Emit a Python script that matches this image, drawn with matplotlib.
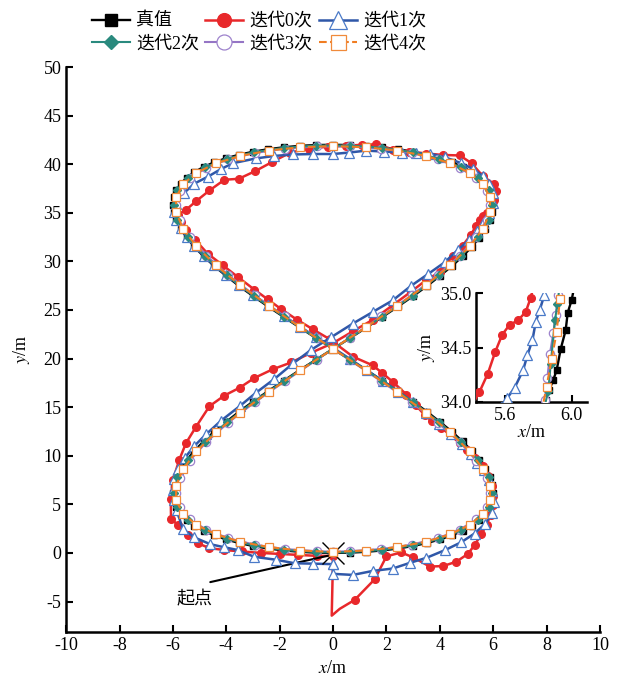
import matplotlib
matplotlib.use('Agg')
import matplotlib.pyplot as plt

plt.rcParams['font.family'] = ['Liberation Serif', 'Noto Sans CJK SC']
plt.rcParams['mathtext.fontset'] = 'stix'
plt.rcParams['axes.unicode_minus'] = False

labels = ['真值', '迭代0次', '迭代1次', '迭代2次', '迭代3次', '迭代4次']

# reference trajectory (figure eight)
truth_x = [0.00, 0.63, 1.25, 1.85, 2.44, 3.00, 3.53, 4.01, 4.46, 4.85, 5.20, 5.48, 5.71, 5.87, 5.97, 6.00,
           5.97, 5.87, 5.71, 5.48, 5.20, 4.85, 4.46, 4.01, 3.53, 3.00, 2.44, 1.85, 1.25, 0.63, 0.00,
           -0.63, -1.25, -1.85, -2.44, -3.00, -3.53, -4.01, -4.46, -4.85, -5.20, -5.48, -5.71, -5.87, -5.97, -6.00,
           -5.97, -5.87, -5.71, -5.48, -5.20, -4.85, -4.46, -4.01, -3.53, -3.00, -2.44, -1.85, -1.25, -0.63, 0.00,
           0.63, 1.25, 1.85, 2.44, 3.00, 3.53, 4.01, 4.46, 4.85, 5.20, 5.48, 5.71, 5.87, 5.97, 6.00,
           5.97, 5.87, 5.71, 5.48, 5.20, 4.85, 4.46, 4.01, 3.53, 3.00, 2.44, 1.85, 1.25, 0.63, 0.00,
           -0.63, -1.25, -1.85, -2.44, -3.00, -3.53, -4.01, -4.46, -4.85, -5.20, -5.48, -5.71, -5.87, -5.97, -6.00,
           -5.97, -5.87, -5.71, -5.48, -5.20, -4.85, -4.46, -4.01, -3.53, -3.00, -2.44, -1.85, -1.25, -0.63, 0.00]
truth_y = [0.00, 0.03, 0.12, 0.26, 0.46, 0.72, 1.03, 1.40, 1.82, 2.29, 2.81, 3.39, 4.01, 4.68, 5.39, 6.15,
           6.95, 7.78, 8.66, 9.56, 10.50, 11.47, 12.46, 13.47, 14.51, 15.57, 16.63, 17.72, 18.81, 19.90, 21.00,
           22.10, 23.20, 24.29, 25.37, 26.44, 27.49, 28.53, 29.54, 30.53, 31.50, 32.44, 33.34, 34.22, 35.05, 35.85,
           36.61, 37.32, 37.99, 38.61, 39.19, 39.71, 40.19, 40.61, 40.97, 41.28, 41.54, 41.74, 41.89, 41.97, 42.00,
           41.97, 41.89, 41.74, 41.54, 41.28, 40.97, 40.61, 40.19, 39.71, 39.19, 38.61, 37.99, 37.32, 36.61, 35.85,
           35.05, 34.22, 33.34, 32.44, 31.50, 30.53, 29.54, 28.53, 27.49, 26.44, 25.37, 24.29, 23.20, 22.10, 21.00,
           19.90, 18.81, 17.72, 16.63, 15.57, 14.51, 13.47, 12.46, 11.47, 10.50, 9.56, 8.66, 7.78, 6.95, 6.15,
           5.39, 4.68, 4.01, 3.39, 2.81, 2.29, 1.82, 1.40, 1.03, 0.72, 0.46, 0.26, 0.12, 0.03, 0.00]

# iteration 0
it0_x = [0.00, -0.05, 0.25, 0.81, 1.56, 2.00, 2.55, 3.00, 3.62, 4.12, 4.62, 5.05, 5.30, 5.55, 5.75, 5.90,
         5.98, 6.00, 5.95, 5.82, 5.60, 5.30, 5.02, 4.75, 4.40, 4.05, 3.70, 3.43, 3.10, 2.75, 2.24, 1.85,
         1.49, 0.74, -0.13, -0.75, -1.35, -1.95, -2.45, -2.95, -3.57, -4.13, -4.70, -5.16, -5.51, -5.70,
         -5.82, -5.51, -5.13, -4.63, -4.07, -3.53, -2.91, -2.30, -1.60, -0.90, -0.20, 0.50, 1.10, 1.62,
         2.24, 2.85, 3.50, 4.12, 4.75, 5.19, 5.62, 6.02, 6.10, 6.02, 5.76, 5.62, 5.50, 5.35, 5.15, 4.85,
         4.50, 4.00, 3.50, 2.93, 2.24, 1.49, 0.74, 0.00, -0.82, -1.57, -2.26, -2.95, -3.50, -4.07, -4.63,
         -5.13, -5.51, -5.76, -6.00, -6.08, -6.07, -5.82, -5.45, -5.07, -4.63, -4.07, -3.40, -2.70, -2.00,
         -1.30, -0.60, 0.00]
it0_y = [-0.30, -6.45, -5.75, -4.83, -2.71, -0.35, 0.05, -0.45, -1.40, -1.35, -0.90, -0.10, 0.80, 1.90, 2.90, 3.90,
         4.90, 5.90, 6.90, 7.90, 8.90, 9.80, 10.60, 11.30, 12.10, 12.90, 13.60, 14.20, 15.20, 16.30, 17.60, 18.50,
         19.30, 20.20, 22.00, 23.00, 24.00, 25.10, 26.10, 27.10, 28.40, 29.60, 30.80, 32.20, 33.20, 34.10,
         34.80, 35.30, 36.20, 37.30, 38.40, 38.50, 39.30, 40.20, 41.20, 41.60, 41.80, 41.90, 42.00, 42.05,
         41.50, 41.30, 41.10, 40.95, 40.90, 40.10, 38.75, 38.00, 37.20, 36.30, 35.00, 34.70, 34.25, 33.60, 32.70, 31.60,
         30.60, 28.90, 28.10, 26.90, 25.50, 24.00, 22.80, 21.60, 20.60, 19.60, 18.90, 18.00, 17.00, 16.20, 15.10,
         13.00, 11.30, 9.60, 7.50, 5.50, 3.50, 2.90, 1.85, 1.00, 0.50, 0.30, 0.15, 0.00, -0.10,
         -0.20, -0.30, -0.30]

# iteration 1
it1_x = [0.00, 0.00, 0.74, 1.49, 2.24, 2.90, 3.50, 4.20, 4.80, 5.30, 5.70, 5.95, 6.02, 5.97, 5.85, 5.65,
         5.40, 5.15, 4.82, 4.43, 3.98, 3.50, 3.00, 2.45, 1.86, 1.26, 0.64, 0.00, -0.63, -1.25, -1.85, -2.44,
         -3.00, -3.53, -4.01, -4.46, -4.85, -5.20, -5.48, -5.71, -5.87, -5.95, -5.90, -5.60, -5.20, -4.70,
         -4.20, -3.76, -2.88, -2.20, -1.50, -0.75, 0.00, 0.60, 1.25, 1.90, 2.60, 3.10, 3.62, 4.20, 4.81,
         5.25, 5.60, 5.85, 6.00, 5.98, 5.84, 5.62, 5.40, 5.10, 4.68, 4.18, 3.56, 2.93, 2.24, 1.49, 0.74,
         -0.07, -0.82, -1.50, -2.20, -2.88, -3.50, -4.20, -4.76, -5.20, -5.55, -5.80, -5.95, -6.00, -5.97,
         -5.85, -5.64, -5.20, -4.60, -4.10, -3.57, -2.95, -2.13, -1.44, -0.76, 0.00]
it1_y = [-1.15, -2.15, -2.26, -1.85, -1.60, -1.00, -0.50, 0.30, 1.10, 2.00, 3.00, 4.10, 5.20, 6.40, 7.50, 8.50,
         9.30, 10.20, 11.20, 12.20, 13.30, 14.40, 15.50, 16.60, 17.70, 18.80, 19.95, 21.10, 22.20, 23.30, 24.40, 25.50,
         26.55, 27.60, 28.60, 29.60, 30.60, 31.60, 32.50, 33.40, 34.30, 35.10, 35.90, 37.00, 38.00, 38.70,
         39.50, 40.10, 40.60, 40.85, 41.00, 41.05, 41.05, 41.20, 41.40, 41.30, 41.20, 41.15, 41.10, 40.70, 40.10,
         39.50, 38.80, 38.00, 37.00, 36.00, 35.00, 34.00, 33.10, 32.20, 31.20, 29.90, 28.70, 27.50, 26.00, 24.80, 23.60,
         22.20, 20.90, 19.50, 17.90, 16.50, 15.10, 13.60, 12.20, 11.00, 9.80, 8.60, 7.60, 6.50, 5.40,
         4.40, 2.50, 1.60, 0.90, 0.60, 0.30, -0.40, -0.70, -1.06, -1.10, -1.15]

# iteration 2
it2_x = [0.00, 0.63, 1.84, 2.98, 3.98, 4.81, 5.44, 5.83, 5.96, 5.83, 5.44, 4.81, 3.98, 2.98, 1.84, 0.63,
         -0.63, -1.84, -2.98, -3.98, -4.81, -5.44, -5.83, -5.96, -5.83, -5.44, -4.81, -3.98, -2.98, -1.84, -0.63,
         0.63, 1.84, 2.98, 3.98, 4.81, 5.44, 5.83, 5.96, 5.83, 5.44, 4.81, 3.98, 2.98, 1.84, 0.63,
         -0.63, -1.84, -2.98, -3.98, -4.81, -5.44, -5.83, -5.96, -5.83, -5.44, -4.81, -3.98, -2.98, -1.84, -0.63, 0.00]
it2_y = [0.05, 0.08, 0.31, 0.77, 1.45, 2.33, 3.41, 4.69, 6.15, 7.77, 9.54, 11.45, 13.45, 15.55, 17.70, 19.89,
         22.11, 24.31, 26.46, 28.55, 30.56, 32.46, 34.23, 35.85, 37.30, 38.58, 39.67, 40.56, 41.23, 41.69, 41.92,
         41.92, 41.69, 41.23, 40.56, 39.67, 38.58, 37.30, 35.85, 34.23, 32.46, 30.56, 28.55, 26.46, 24.31, 22.11,
         19.89, 17.70, 15.55, 13.45, 11.45, 9.54, 7.77, 6.15, 4.69, 3.41, 2.33, 1.45, 0.77, 0.31, 0.08, 0.05]

# iteration 3
it3_x = [0.00, 0.62, 1.81, 2.94, 3.93, 4.75, 5.37, 5.75, 5.88, 5.75, 5.37, 4.75, 3.93, 2.94, 1.81, 0.62,
         -0.62, -1.81, -2.94, -3.93, -4.75, -5.37, -5.75, -5.88, -5.75, -5.37, -4.75, -3.93, -2.94, -1.81, -0.62,
         0.62, 1.81, 2.94, 3.93, 4.75, 5.37, 5.75, 5.88, 5.75, 5.37, 4.75, 3.93, 2.94, 1.81, 0.62,
         -0.62, -1.81, -2.94, -3.93, -4.75, -5.37, -5.75, -5.88, -5.75, -5.37, -4.75, -3.93, -2.94, -1.81, -0.62, 0.00]
it3_y = [0.12, 0.18, 0.40, 0.85, 1.52, 2.40, 3.46, 4.72, 6.15, 7.75, 9.50, 11.40, 13.40, 15.50, 17.66, 19.86,
         22.13, 24.34, 26.50, 28.60, 30.60, 32.50, 34.25, 35.85, 37.28, 38.54, 39.62, 40.50, 41.15, 41.60, 41.83,
         41.83, 41.60, 41.15, 40.50, 39.62, 38.54, 37.28, 35.85, 34.25, 32.50, 30.60, 28.60, 26.50, 24.34, 22.13,
         19.86, 17.66, 15.50, 13.40, 11.40, 9.50, 7.75, 6.15, 4.72, 3.46, 2.40, 1.52, 0.85, 0.40, 0.18, 0.12]

# iteration 4
it4_x = [0.00, 1.23, 2.40, 3.48, 4.39, 5.12, 5.62, 5.88, 5.88, 5.62, 5.12, 4.39, 3.48, 2.40, 1.23, 0.00,
         -1.23, -2.40, -3.48, -4.39, -5.12, -5.62, -5.88, -5.88, -5.62, -5.12, -4.39, -3.48, -2.40, -1.23, 0.00,
         1.23, 2.40, 3.48, 4.39, 5.12, 5.62, 5.88, 5.88, 5.62, 5.12, 4.39, 3.48, 2.40, 1.23, 0.00,
         -1.23, -2.40, -3.48, -4.39, -5.12, -5.62, -5.88, -5.88, -5.62, -5.12, -4.39, -3.48, -2.40, -1.23, 0.00]
it4_y = [0.10, 0.25, 0.60, 1.15, 1.92, 2.88, 4.05, 5.40, 6.93, 8.62, 10.45, 12.40, 14.45, 16.58, 18.78, 21.00,
         23.22, 25.42, 27.55, 29.60, 31.55, 33.38, 35.06, 36.58, 37.93, 39.11, 40.09, 40.85, 41.41, 41.75, 41.86,
         41.75, 41.41, 40.85, 40.09, 39.11, 37.93, 36.58, 35.06, 33.38, 31.55, 29.60, 27.55, 25.42, 23.22, 21.00,
         18.78, 16.58, 14.45, 12.40, 10.45, 8.62, 6.93, 5.40, 4.05, 2.88, 1.92, 1.15, 0.60, 0.25, 0.10]

# zoomed window (x 5.4-6.1, y 34-35), denser samples
zt_x = [5.83, 5.846, 5.866, 5.89, 5.91, 5.935, 5.964, 5.976, 6.0, 6.02]
zt_y = [33.9, 34.02, 34.11, 34.2, 34.29, 34.49, 34.66, 34.82, 34.94, 35.1]
z0_x = [5.40, 5.45, 5.50, 5.544, 5.586, 5.63, 5.68, 5.726, 5.756, 5.77]
z0_y = [33.95, 34.09, 34.26, 34.46, 34.62, 34.71, 34.75, 34.83, 34.96, 35.05]
z1_x = [5.58, 5.614, 5.66, 5.71, 5.736, 5.766, 5.786, 5.81, 5.836, 5.85]
z1_y = [33.95, 34.03, 34.13, 34.29, 34.43, 34.57, 34.74, 34.85, 34.98, 35.1]
z2_x = [5.83, 5.86, 5.875, 5.90, 5.915, 5.93]
z2_y = [33.9, 34.1, 34.35, 34.75, 34.9, 35.1]
z3_x = [5.82, 5.84, 5.855, 5.87, 5.89, 5.905, 5.92, 5.93]
z3_y = [33.85, 34.02, 34.22, 34.44, 34.63, 34.8, 34.98, 35.1]
z4_x = [5.82, 5.85, 5.88, 5.91, 5.93, 5.935]
z4_y = [33.9, 34.14, 34.39, 34.64, 34.95, 35.1]

styles = [
    dict(color='black', marker='s', ms=5, lw=1.7, zorder=2),
    dict(color='#e8282b', marker='o', ms=5.5, lw=1.8, zorder=3),
    dict(color='#2f57a8', marker='^', ms=7, mfc='white', mec='#4a7ac8', mew=0.9, lw=1.8, zorder=4),
    dict(color='#2a8a7e', marker='D', ms=4, lw=1.5, zorder=6),
    dict(color='#9575c5', marker='o', ms=6, mfc='white', mec='#9d82cc', mew=0.9, lw=1.5, zorder=5),
    dict(color='#f07d22', marker='s', ms=6, mfc='white', mec='#f08a3a', mew=0.9, lw=1.5, ls='--', zorder=7),
]

main_data = [(truth_x, truth_y), (it0_x, it0_y), (it1_x, it1_y),
             (it2_x, it2_y), (it3_x, it3_y), (it4_x, it4_y)]
zoom_data = [(zt_x, zt_y), (z0_x, z0_y), (z1_x, z1_y),
             (z2_x, z2_y), (z3_x, z3_y), (z4_x, z4_y)]


def style_axes(ax, fs):
    for s in ['top', 'right']:
        ax.spines[s].set_visible(False)
    for s in ['left', 'bottom']:
        ax.spines[s].set_linewidth(1.8)
    ax.tick_params(direction='in', length=5, width=1.5, labelsize=fs)


fig = plt.figure(figsize=(6.24, 6.79), dpi=100)
ax = fig.add_axes([0.106, 0.0697, 0.8555, 0.8316])

handles = []
for (x, y), st, lab in zip(main_data, styles, labels):
    kw = dict(st)
    if lab == '迭代0次':
        kw['markevery'] = (3, 1)   # no markers on the first transient points
    h, = ax.plot(x, y, label=lab, **kw)
    handles.append(h)

# start point
ax.plot(truth_x[0], truth_y[0], marker='x', ms=16, mew=1.0, color='black', ls='none', zorder=6.5)
ax.annotate('', xy=(truth_x[0] - 0.05, truth_y[0] - 0.2), xytext=(-4.6, -3.0),
            arrowprops=dict(arrowstyle='-', color='black', lw=1.5, shrinkA=0, shrinkB=0))
ax.text(-5.2, -4.8, '起点', ha='center', va='center', fontsize=13)

ax.set_xlim(-10, 10)
ax.set_ylim(-8.1, 50)
ax.set_xticks(range(-10, 11, 2))
ax.set_yticks(range(-5, 51, 5))
style_axes(ax, 13)
ax.set_xlabel('$x$/m', fontsize=13, labelpad=5)
ax.set_ylabel('$y$/m', fontsize=13, labelpad=8)

# inset
ins = fig.add_axes([0.763, 0.4084, 0.1774, 0.1596])
ins.patch.set_alpha(0)
for (x, y), st in zip(zoom_data, styles):
    ins.plot(x, y, **st)
ins.set_xlim(5.43, 6.09)
ins.set_ylim(34.0, 35.0)
ins.set_xticks([5.6, 6.0])
ins.set_xticklabels(['5.6', '6.0'])
ins.set_yticks([34.0, 34.5, 35.0])
ins.set_yticklabels(['34.0', '34.5', '35.0'])
style_axes(ins, 13)
ins.set_xlabel('$x$/m', fontsize=13, labelpad=0)
ins.set_ylabel('$y$/m', fontsize=13, labelpad=2)

# legend: two rows of three, filled column-wise so reorder
order = [0, 3, 1, 4, 2, 5]
fig.legend([handles[i] for i in order], [labels[i] for i in order],
           ncol=3, loc='upper center', bbox_to_anchor=(0.415, 1.005), frameon=False,
           fontsize=13, handlelength=2.1, markerscale=1.8, columnspacing=0.35,
           handletextpad=0.35, labelspacing=0.3)

fig.savefig('out.png', dpi=100)
